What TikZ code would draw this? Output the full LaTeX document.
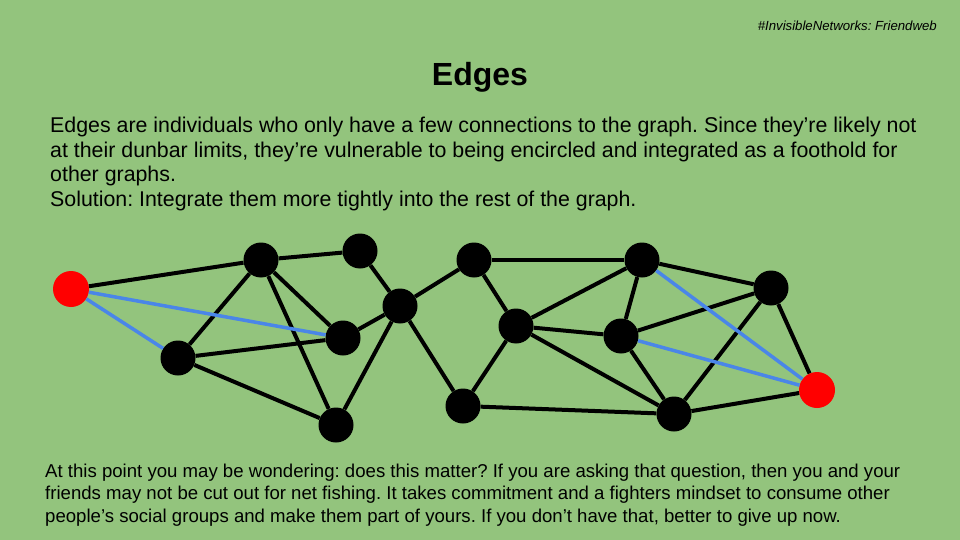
\documentclass[tikz,border=0pt]{standalone}
\usepackage{fontspec}
\setmainfont{Liberation Sans}
\usetikzlibrary{shapes}
\definecolor{slidegreen}{HTML}{93C47D}
\definecolor{linkblue}{HTML}{4A86E8}
\tikzstyle{nd}=[circle,fill=black,minimum size=35pt,inner sep=0pt]
\tikzstyle{rd}=[circle,fill=red,minimum size=36pt,inner sep=0pt]
\tikzstyle{ln}=[line width=4pt,black]
\tikzstyle{bl}=[line width=3.5pt,linkblue]
\frenchspacing

\begin{document}
\begin{tikzpicture}[x=1pt,y=-1pt]
\fill[slidegreen] (0,0) rectangle (960,540);
\useasboundingbox (0,0) rectangle (960,540);
% texts
\node[anchor=base east,inner sep=0,font=\itshape\fontsize{13.2}{15}\selectfont] (tag) at (937,30.5) {\#InvisibleNetworks: Friendweb};
\node[anchor=base,inner sep=0,font=\bfseries\fontsize{32}{38}\selectfont] (title) at (480,86) {Edges};
\node[anchor=base west,inner sep=0,align=left,font=\fontsize{21.35}{24.6}\selectfont] (intro) at (50,206.5)
{Edges are individuals who only have a few connections to the graph. Since they’re likely not\\
at their dunbar limits, they’re vulnerable to being encircled and integrated as a foothold for\\
other graphs.\\
Solution: Integrate them more tightly into the rest of the graph.};
\node[anchor=base west,inner sep=0,align=left,font=\fontsize{18.6}{22.6}\selectfont] (outro) at (45,522.5)
{At this point you may be wondering: does this matter? If you are asking that question, then you and your\\
friends may not be cut out for net fishing. It takes commitment and a fighters mindset to consume other\\
people’s social groups and make them part of yours. If you don’t have that, better to give up now.};
% nodes
\node[rd] (r1) at (71,289) {};
\node[nd] (a) at (261,260) {};
\node[nd] (b) at (360,251) {};
\node[nd] (c) at (178,358) {};
\node[nd] (d) at (343,338) {};
\node[nd] (e) at (400,306) {};
\node[nd] (f) at (336,425) {};
\node[nd] (g) at (474,260) {};
\node[nd] (h) at (516,326) {};
\node[nd] (i) at (463,406) {};
\node[nd] (j) at (642,260) {};
\node[nd] (k) at (621,336) {};
\node[nd] (l) at (771,288) {};
\node[nd] (m) at (674,414) {};
\node[rd] (r2) at (817,390) {};
% edges
\draw[ln] (r1) -- (a);
\draw[ln] (a) -- (b);
\draw[ln] (a) -- (c);
\draw[ln] (a) -- (d);
\draw[ln] (a) -- (f);
\draw[ln] (c) -- (d);
\draw[ln] (c) -- (f);
\draw[ln] (b) -- (e);
\draw[ln] (d) -- (e);
\draw[ln] (e) -- (f);
\draw[ln] (e) -- (g);
\draw[ln] (e) -- (i);
\draw[ln] (g) -- (j);
\draw[ln] (g) -- (h);
\draw[ln] (h) -- (i);
\draw[ln] (h) -- (j);
\draw[ln] (h) -- (k);
\draw[ln] (h) -- (m);
\draw[ln] (i) -- (m);
\draw[ln] (j) -- (k);
\draw[ln] (j) -- (l);
\draw[ln] (k) -- (l);
\draw[ln] (k) -- (m);
\draw[ln] (l) -- (m);
\draw[ln] (l) -- (r2);
\draw[ln] (m) -- (r2);
\draw[bl] (r1) -- (c);
\draw[bl] (r1) -- (d);
\draw[bl] (j) -- (r2);
\draw[bl] (k) -- (r2);
\end{tikzpicture}
\end{document}
